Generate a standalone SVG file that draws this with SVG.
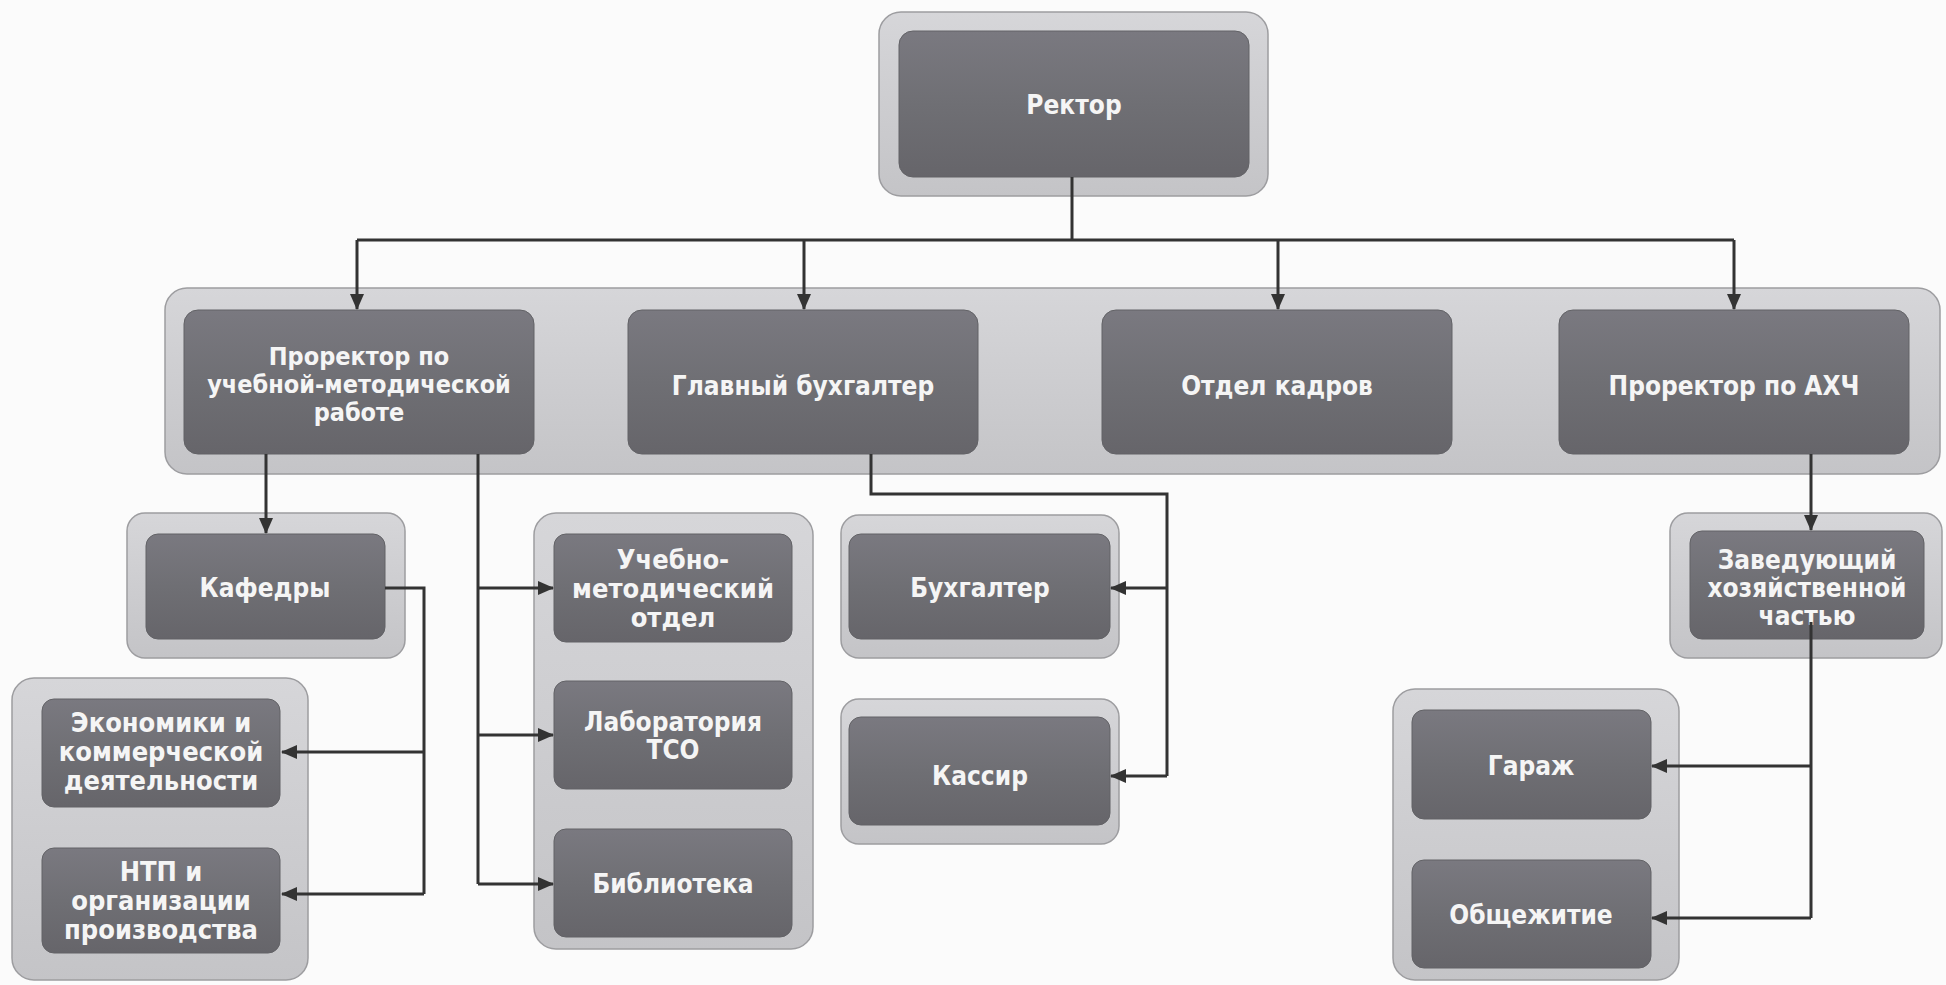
<svg xmlns="http://www.w3.org/2000/svg" width="1946" height="985" viewBox="0 0 1946 985">
<defs>
<linearGradient id="gb" x1="0" y1="0" x2="0" y2="1">
<stop offset="0" stop-color="#7a7980"/>
<stop offset="0.5" stop-color="#6f6f74"/>
<stop offset="1" stop-color="#66656a"/>
</linearGradient>
<linearGradient id="go" x1="0" y1="0" x2="0" y2="1">
<stop offset="0" stop-color="#d6d6d9"/>
<stop offset="1" stop-color="#c4c4c7"/>
</linearGradient>
<marker id="ah" markerUnits="userSpaceOnUse" markerWidth="16" markerHeight="16" viewBox="0 0 16 16" refX="15" refY="8" orient="auto">
<path d="M0,1 L16,8 L0,15 z" fill="#333"/>
</marker>
<style>
.outer{fill:url(#go);stroke:#9d9da0;stroke-width:1.5}
.box{fill:url(#gb);stroke:#626266;stroke-width:1}
.t{font-family:"DejaVu Sans Condensed","DejaVu Sans","Liberation Sans",sans-serif;font-stretch:condensed;font-weight:bold;font-size:26px;fill:#f5f5f5;text-anchor:middle}
.s{font-size:25px}
.l{font-size:27px}
.m{font-size:27px}
.c{stroke:#333;stroke-width:3;fill:none}
.a{stroke:#333;stroke-width:3;fill:none;marker-end:url(#ah)}
</style>
</defs>
<rect width="1946" height="985" fill="#fbfbfb"/>

<g id="rector">
<rect class="outer" x="879" y="12" width="389" height="184" rx="22"/>
<rect class="box" x="899" y="31" width="350" height="146" rx="14"/>
<text class="t" x="1074" y="114">Ректор</text>
</g>

<g id="band">
<rect class="outer" x="165" y="288" width="1775" height="186" rx="22"/>
</g>

<g id="prorector-umr">
<rect class="box" x="184" y="310" width="350" height="144" rx="14"/>
<text class="t s" x="359" y="365">Проректор по</text>
<text class="t s" x="359" y="393">учебной-методической</text>
<text class="t s" x="359" y="421">работе</text>
</g>

<g id="glavbuh">
<rect class="box" x="628" y="310" width="350" height="144" rx="14"/>
<text class="t" x="803" y="395">Главный бухгалтер</text>
</g>

<g id="kadry">
<rect class="box" x="1102" y="310" width="350" height="144" rx="14"/>
<text class="t" x="1277" y="395">Отдел кадров</text>
</g>

<g id="prorector-ahch">
<rect class="box" x="1559" y="310" width="350" height="144" rx="14"/>
<text class="t" x="1734" y="395">Проректор по АХЧ</text>
</g>

<g id="kafedry">
<rect class="outer" x="127" y="513" width="278" height="145" rx="18"/>
<rect class="box" x="146" y="534" width="239" height="105" rx="12"/>
<text class="t" x="265" y="597">Кафедры</text>
</g>

<g id="kafedry-group">
<rect class="outer" x="12" y="678" width="296" height="302" rx="22"/>
</g>

<g id="economics">
<rect class="box" x="42" y="699" width="238" height="108" rx="12"/>
<text class="t l" x="161" y="732">Экономики и</text>
<text class="t l" x="161" y="761">коммерческой</text>
<text class="t l" x="161" y="790">деятельности</text>
</g>

<g id="ntp">
<rect class="box" x="42" y="848" width="238" height="105" rx="12"/>
<text class="t l" x="161" y="881">НТП и</text>
<text class="t l" x="161" y="910">организации</text>
<text class="t l" x="161" y="939">производства</text>
</g>

<g id="umr-group">
<rect class="outer" x="534" y="513" width="279" height="436" rx="22"/>
</g>

<g id="umo">
<rect class="box" x="554" y="534" width="238" height="108" rx="12"/>
<text class="t m" x="673" y="569">Учебно-</text>
<text class="t m" x="673" y="598">методический</text>
<text class="t m" x="673" y="627">отдел</text>
</g>

<g id="tso">
<rect class="box" x="554" y="681" width="238" height="108" rx="12"/>
<text class="t" x="673" y="731">Лаборатория</text>
<text class="t" x="673" y="759">ТСО</text>
</g>

<g id="library">
<rect class="box" x="554" y="829" width="238" height="108" rx="12"/>
<text class="t" x="673" y="893">Библиотека</text>
</g>

<g id="buhgalter">
<rect class="outer" x="841" y="515" width="278" height="143" rx="18"/>
<rect class="box" x="849" y="534" width="261" height="105" rx="12"/>
<text class="t" x="980" y="597">Бухгалтер</text>
</g>

<g id="kassir">
<rect class="outer" x="841" y="699" width="278" height="145" rx="18"/>
<rect class="box" x="849" y="717" width="261" height="108" rx="12"/>
<text class="t" x="980" y="785">Кассир</text>
</g>

<g id="zaved">
<rect class="outer" x="1670" y="513" width="272" height="145" rx="18"/>
<rect class="box" x="1690" y="531" width="234" height="108" rx="12"/>
<text class="t" x="1807" y="569">Заведующий</text>
<text class="t" x="1807" y="597">хозяйственной</text>
<text class="t" x="1807" y="625">частью</text>
</g>

<g id="ahch-group">
<rect class="outer" x="1393" y="689" width="286" height="291" rx="22"/>
</g>

<g id="garage">
<rect class="box" x="1412" y="710" width="239" height="109" rx="12"/>
<text class="t" x="1531" y="775">Гараж</text>
</g>

<g id="dorm">
<rect class="box" x="1412" y="860" width="239" height="108" rx="12"/>
<text class="t" x="1531" y="924">Общежитие</text>
</g>

<g id="connectors">
<path class="c" d="M1072,177 V240"/>
<path class="c" d="M357,240 H1734"/>
<path class="a" d="M357,240 V309"/>
<path class="a" d="M804,240 V309"/>
<path class="a" d="M1278,240 V309"/>
<path class="a" d="M1734,240 V309"/>
<path class="a" d="M266,454 V533"/>
<path class="c" d="M385,588 H424 V894"/>
<path class="a" d="M424,752 H282"/>
<path class="a" d="M424,894 H282"/>
<path class="c" d="M478,454 V884"/>
<path class="a" d="M478,588 H553"/>
<path class="a" d="M478,735 H553"/>
<path class="a" d="M478,884 H553"/>
<path class="c" d="M871,454 V494 H1167 V776"/>
<path class="a" d="M1167,588 H1111"/>
<path class="a" d="M1167,776 H1111"/>
<path class="a" d="M1811,454 V530"/>
<path class="c" d="M1811,622 V918"/>
<path class="a" d="M1811,766 H1652"/>
<path class="a" d="M1811,918 H1652"/>
</g>
</svg>
